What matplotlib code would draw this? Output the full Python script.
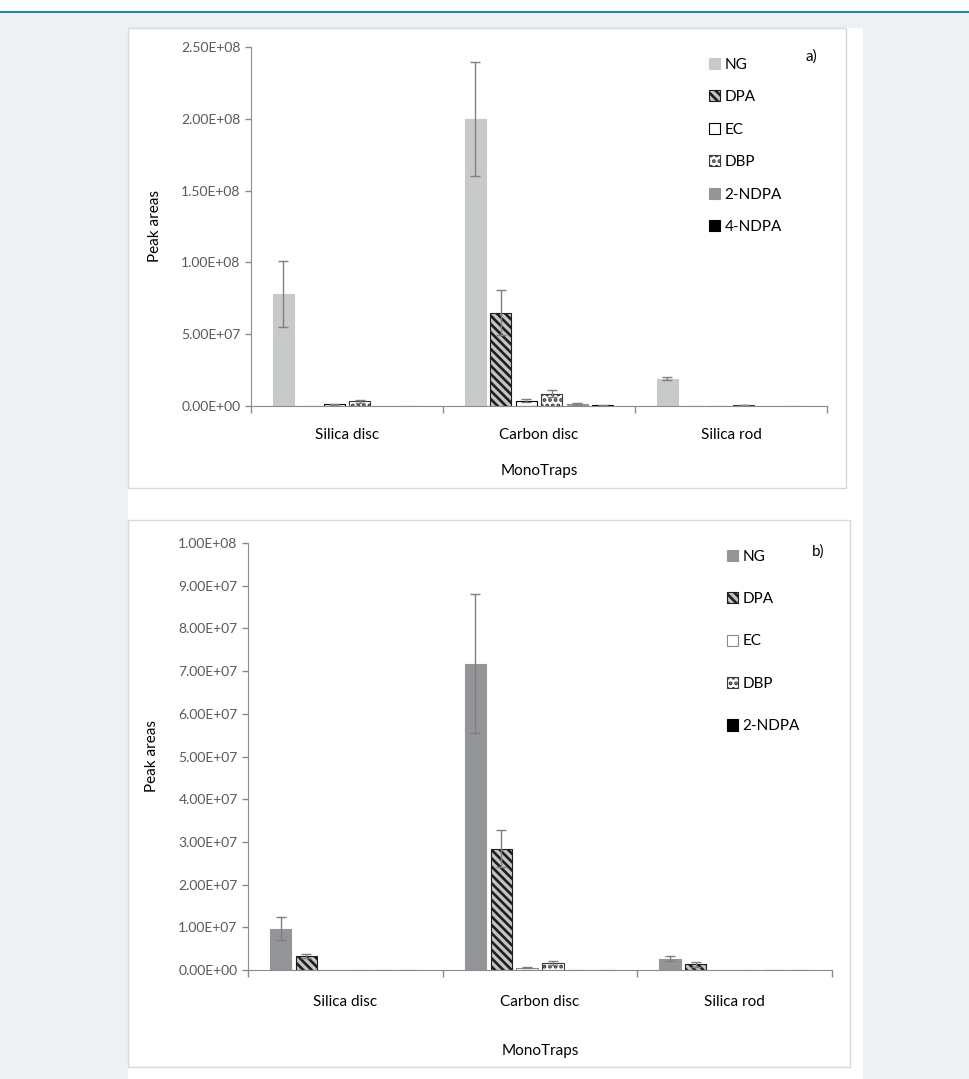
import numpy as np
import matplotlib
matplotlib.use("Agg")
import matplotlib.pyplot as plt
from matplotlib.patches import Rectangle, Patch
from matplotlib.lines import Line2D

plt.rcParams['font.family'] = ['Lato', 'DejaVu Sans']
plt.rcParams['hatch.linewidth'] = 1.9

W, H = 970, 1079

# data
categories = ['Silica disc', 'Carbon disc', 'Silica rod']

a_labels = ['NG', 'DPA', 'EC', 'DBP', '2-NDPA', '4-NDPA']
a_ng = [7.8e7, 2.0e8, 1.9e7]
a_ng_err = [2.3e7, 3.95e7, 1.0e6]
a_dpa = [0, 6.5e7, 0]
a_dpa_err = [0, 1.55e7, 0]
a_ec = [1.2e6, 3.6e6, 0]
a_ec_err = [3e5, 1.0e6, 0]
a_dbp = [3.3e6, 8.5e6, 6e5]
a_dbp_err = [1.0e6, 2.5e6, 2e5]
a_2ndpa = [0, 1.5e6, 0]
a_2ndpa_err = [0, 6e5, 0]
a_4ndpa = [0, 4e5, 0]
a_4ndpa_err = [0, 3e5, 0]

b_labels = ['NG', 'DPA', 'EC', 'DBP', '2-NDPA']
b_ng = [9.7e6, 7.17e7, 2.6e6]
b_ng_err = [2.7e6, 1.63e7, 6e5]
b_dpa = [3.2e6, 2.84e7, 1.3e6]
b_dpa_err = [5e5, 4.3e6, 5e5]
b_ec = [0, 5e5, 0]
b_ec_err = [0, 1e5, 0]
b_dbp = [0, 1.6e6, 0]
b_dbp_err = [0, 5e5, 0]
b_2ndpa = [0, -6e5, 0]
b_2ndpa_err = [0, 0, 0]

# bar styles (face, edge, hatch)
sty_light = dict(color='#c8c9cb', edgecolor='#c8c9cb', hatch=None)
sty_mid = dict(color='#939598', edgecolor='#939598', hatch=None)
sty_dpa = dict(color='#c4c4c4', edgecolor='#1e1e1e', hatch='\\\\\\\\')
sty_ec = dict(color='white', edgecolor='black', hatch=None)
sty_ec_b = dict(color='white', edgecolor='#8a8a8a', hatch=None)
sty_dbp = dict(color='white', edgecolor='#3a3a3a', hatch='...')
sty_black = dict(color='black', edgecolor='black', hatch=None)

TXT = '#595959'
AXC = '#8c8c8c'


def fx(px):
    return px / W


def fy(py):
    return 1 - py / H


fig = plt.figure(figsize=(W / 100, H / 100), dpi=100)
fig.patch.set_facecolor('#edf1f4')

# page decoration: teal rule, white column, panel frames
fig.add_artist(Rectangle((0, fy(12)), 1, 12 / H, transform=fig.transFigure,
                         facecolor='white', edgecolor='none', zorder=-5))
fig.add_artist(Line2D([0, 1], [fy(12), fy(12)], transform=fig.transFigure,
                      color='#1a8a9e', lw=1.4))
fig.add_artist(Rectangle((fx(128), 0), fx(863 - 128), fy(28), transform=fig.transFigure,
                         facecolor='white', edgecolor='none', zorder=-5))
fig.add_artist(Rectangle((fx(128), fy(488)), fx(846 - 128), (488 - 28) / H,
                         transform=fig.transFigure, facecolor='none',
                         edgecolor='#d9d9d9', lw=1))
fig.add_artist(Rectangle((fx(128), fy(1067)), fx(850 - 128), (1067 - 520) / H,
                         transform=fig.transFigure, facecolor='none',
                         edgecolor='#d9d9d9', lw=1))


def panel(box, ymax, ystep, series, styles, labels, tag, leg, lab_pad, title_pad, ylab_pad):
    left, right, top, bottom = box
    ax = fig.add_axes([fx(left), fy(bottom), fx(right - left), (bottom - top) / H])
    ax.set_facecolor('none')
    x = np.arange(len(categories))
    pitch, width = 0.133, 0.109
    for i, ((vals, errs), st) in enumerate(zip(series, styles)):
        pos = x + (i - 2.5) * pitch
        ax.bar(pos, vals, width, color=st['color'], edgecolor=st['edgecolor'],
               hatch=st['hatch'], lw=0.8, zorder=2)
        m = np.array(errs) > 0
        if m.any():
            ax.errorbar(pos[m], np.array(vals)[m], yerr=np.array(errs)[m], fmt='none',
                        ecolor='#7f7f7f', elinewidth=1, capsize=3.5, capthick=1, zorder=3)
    ax.set_xlim(-0.5, 2.5)
    ax.set_ylim(0, ymax)
    ax.set_yticks(np.arange(0, ymax + ystep / 2, ystep))
    ax.yaxis.set_major_formatter(plt.FuncFormatter(lambda v, p: '{:.2E}'.format(v)))
    ax.tick_params(axis='y', colors=AXC, labelcolor=TXT, labelsize=10, length=4, width=1)
    ax.set_xticks(x)
    ax.set_xticklabels(categories, fontsize=11, color='black')
    ax.set_xticks([-0.5, 0.5, 1.5, 2.5], minor=True)
    ax.tick_params(axis='x', which='major', length=0, pad=lab_pad)
    ax.tick_params(axis='x', which='minor', length=5, color=AXC, width=1)
    for s in ['top', 'right']:
        ax.spines[s].set_visible(False)
    for s in ['left', 'bottom']:
        ax.spines[s].set_color(AXC)
    ax.set_ylabel('Peak areas', fontsize=11, labelpad=ylab_pad)
    ax.set_xlabel('MonoTraps', fontsize=11, labelpad=title_pad)
    handles = [Patch(facecolor=st['color'], edgecolor=st['edgecolor'], hatch=st['hatch'],
                     lw=0.8) for st in styles[:len(labels)]]
    lx, ly, sp = leg
    ax.legend(handles, labels, loc='upper left', bbox_to_anchor=(fx(lx), fy(ly)),
              bbox_transform=fig.transFigure, frameon=False, fontsize=11,
              handlelength=0.75, handleheight=0.75, handletextpad=0.3,
              labelspacing=sp, borderpad=0)
    fig.text(fx(tag[1]), fy(tag[2]), tag[0], fontsize=11, ha='left', va='center')
    return ax


series_a = [(a_ng, a_ng_err), (a_dpa, a_dpa_err), (a_ec, a_ec_err),
            (a_dbp, a_dbp_err), (a_2ndpa, a_2ndpa_err), (a_4ndpa, a_4ndpa_err)]
styles_a = [sty_light, sty_dpa, sty_ec, sty_dbp, sty_mid, sty_black]
panel((251, 827, 47, 406), 2.5e8, 5e7, series_a, styles_a, a_labels,
      ('a)', 806, 57), (701, 50, 1.21), 16, 16, 14)

series_b = [(b_ng, b_ng_err), (b_dpa, b_dpa_err), (b_ec, b_ec_err),
            (b_dbp, b_dbp_err), (b_2ndpa, b_2ndpa_err), ([0, 0, 0], [0, 0, 0])]
styles_b = [sty_mid, sty_dpa, sty_ec_b, sty_dbp, sty_black, sty_black]
panel((248, 832, 543, 970), 1e8, 1e7, series_b, styles_b, b_labels,
      ('b)', 812, 552), (719, 542, 1.86), 18, 25, 14)

fig.savefig('out.png', dpi=100, facecolor=fig.get_facecolor())
